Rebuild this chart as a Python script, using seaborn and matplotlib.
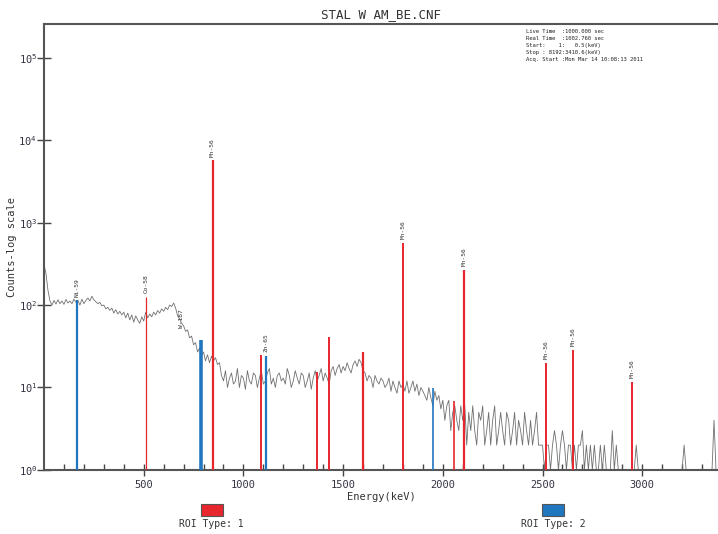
import numpy as np
import pandas as pd
import seaborn as sns
import matplotlib.pyplot as plt
from matplotlib.patches import Rectangle

# spectrum, one value per 10 keV from 0 to 3400 keV
energy_step = 10
counts = [
    310, 240, 150, 112, 100, 114, 103, 116, 104, 112,
    102, 117, 106, 112, 104, 118, 108, 114, 100, 118,
    104, 114, 122, 112, 128, 116, 110, 104, 108, 98,
    100, 90, 94, 86, 92, 80, 88, 78, 84, 76,
    82, 70, 80, 66, 76, 62, 74, 66, 60, 72,
    64, 82, 70, 78, 72, 82, 76, 86, 80, 90,
    84, 94, 88, 100, 96, 106, 92, 74, 68, 60,
    56, 48, 50, 40, 42, 33, 35, 27, 30, 24,
    27, 21, 25, 20, 24, 21, 23, 19, 20, 14,
    12, 16, 10, 13, 15, 11, 12, 17, 10, 14,
    13, 9.5, 16, 12, 11, 15, 14, 10, 13, 16,
    11, 12, 15, 17, 11, 13, 10, 14, 15, 12,
    13, 11, 17, 14, 10, 12, 16, 13, 11, 15,
    14, 10, 12, 15, 9.5, 13, 16, 12, 14, 17,
    12, 15, 13, 11, 16, 18, 14, 17, 19, 15,
    18, 16, 20, 17, 15, 19, 21, 18, 22, 20,
    16, 15, 12, 14, 13, 10, 14, 12, 11, 13,
    12, 10, 11, 13, 9, 12, 10, 8.5, 12, 10,
    11, 9, 12, 8.5, 10, 12, 9, 11, 8, 10,
    9, 8, 7, 10, 7.5, 6, 9, 7, 8, 5.5,
    7, 4, 6, 7, 3, 5, 6, 4, 3, 6,
    4, 6, 2, 5, 3, 6, 3, 2, 5, 4,
    6, 2, 3, 5, 2, 4, 6, 2, 3, 5,
    3, 2, 5, 4, 2, 3, 5, 2, 4, 3,
    2, 5, 3, 2, 4, 2, 3, 5, 2, 2,
    2, 1, 2, 2, 1, 2, 3, 2, 1, 2,
    3, 2, 1, 2, 2, 1, 2, 1, 2, 2,
    3, 1, 2, 1, 2, 1, 2, 1, 1, 2,
    1, 2, 1, 1, 1, 3, 1, 2, 1, 1,
    1, 1, 1, 1, 1, 1, 1, 2, 1, 1,
    1, 1, 1, 1, 1, 1, 1, 1, 1, 1,
    1, 1, 1, 1, 1, 1, 1, 1, 1, 1,
    1, 2, 1, 1, 1, 1, 1, 1, 1, 1,
    1, 1, 1, 1, 1, 1, 4, 1, 1, 1,
    1,
]

# ROI peaks
roi_energy = [164, 510, 786, 846, 1086, 1111, 1370, 1430, 1599, 1802, 1950, 2056, 2105, 2519, 2653, 2951]
roi_height = [115, 125, 38, 5700, 25, 24, 15.6, 41, 27, 570, 9.9, 6.9, 267, 20, 28.6, 11.8]
roi_type = [2, 1, 2, 1, 1, 2, 1, 1, 1, 1, 2, 1, 1, 1, 1, 1]
roi_width = [1.6, 0.9, 2.6, 1.6, 1.4, 1.6, 1.4, 1.4, 1.6, 1.4, 1.2, 1.2, 1.6, 1.4, 1.4, 1.4]

# nuclide labels
label_text = ["Ni-59", "Co-58", "W-187", "Mn-56", "Zn-65", "Mn-56", "Mn-56", "Mn-56", "Mn-56", "Mn-56"]
label_energy = [164, 510, 690, 846, 1111, 1802, 2105, 2519, 2653, 2951]
label_level = [125, 140, 52, 6300, 27, 630, 295, 22, 31.5, 13]

info_lines = [
    "Live Time  :1000.000 sec",
    "Real Time  :1002.760 sec",
    "Start:    1:   0.5(keV)",
    "Stop : 8192:3410.6(keV)",
    "Acq. Start :Mon Mar 14 10:08:13 2011",
]

df = pd.DataFrame({"energy": np.arange(len(counts)) * energy_step, "counts": counts})

sns.set_style("white")
plt.rcParams["font.family"] = ["DejaVu Sans Mono", "DejaVu Sans"]

fig = plt.figure(figsize=(7.18, 5.34), dpi=100)
ax = fig.add_axes([0.0613, 0.12, 0.9387, 0.835])

sns.lineplot(data=df, x="energy", y="counts", ax=ax, color="#707070", linewidth=0.6)

red = "#e8262e"
blue = "#2176c0"
for e, h, t, w in zip(roi_energy, roi_height, roi_type, roi_width):
    c = red if t == 1 else blue
    ax.vlines(e, 1, h, color=c, linewidth=w, zorder=3)

for txt, e, lv in zip(label_text, label_energy, label_level):
    ax.text(e, lv, txt, rotation=90, fontsize=4.5, ha="center", va="bottom", color="#333333")

ax.set_yscale("log")
ax.set_ylim(1, 2.57e5)
ax.set_xlim(0, 3380)

ax.set_xticks([500, 1000, 1500, 2000, 2500, 3000])
ax.set_xticks(np.arange(100, 3380, 100), minor=True)
ax.set_yticks([1, 10, 100, 1000, 1e4, 1e5])
ax.yaxis.set_minor_locator(plt.NullLocator())
ax.tick_params(axis="x", which="major", direction="inout", length=9, width=1, color="#444444",
               labelsize=7.5, labelcolor="#333344", pad=3, bottom=True)
ax.tick_params(axis="x", which="minor", direction="in", length=4, width=1, color="#444444", bottom=True)
ax.tick_params(axis="y", which="major", direction="inout", length=10, width=1, color="#444444",
               labelsize=7.5, labelcolor="#333344", pad=0, left=True)

for s in ["left", "top", "bottom"]:
    ax.spines[s].set_color("#555555")
    ax.spines[s].set_linewidth(1.5)
ax.spines["right"].set_visible(False)

ax.set_xlabel("Energy(keV)", fontsize=7.5, color="#333333", labelpad=1)
ax.set_ylabel("Counts-log scale", fontsize=7.5, color="#333333", labelpad=1)
ax.set_title("STAL W AM_BE.CNF", fontsize=9, color="#333333", pad=4)

fig.text(0.733, 0.945, "\n".join(info_lines), fontsize=4, va="top", ha="left",
         color="#222222", linespacing=1.5)

# ROI legend
fig.patches.append(Rectangle((0.280, 0.034), 0.030, 0.022, transform=fig.transFigure,
                             facecolor=red, edgecolor="#555555", linewidth=0.8))
fig.text(0.295, 0.028, "ROI Type: 1", fontsize=7, ha="center", va="top", color="#333333")
fig.patches.append(Rectangle((0.755, 0.034), 0.030, 0.022, transform=fig.transFigure,
                             facecolor=blue, edgecolor="#555555", linewidth=0.8))
fig.text(0.770, 0.028, "ROI Type: 2", fontsize=7, ha="center", va="top", color="#333333")

fig.savefig("out.png", dpi=100)
